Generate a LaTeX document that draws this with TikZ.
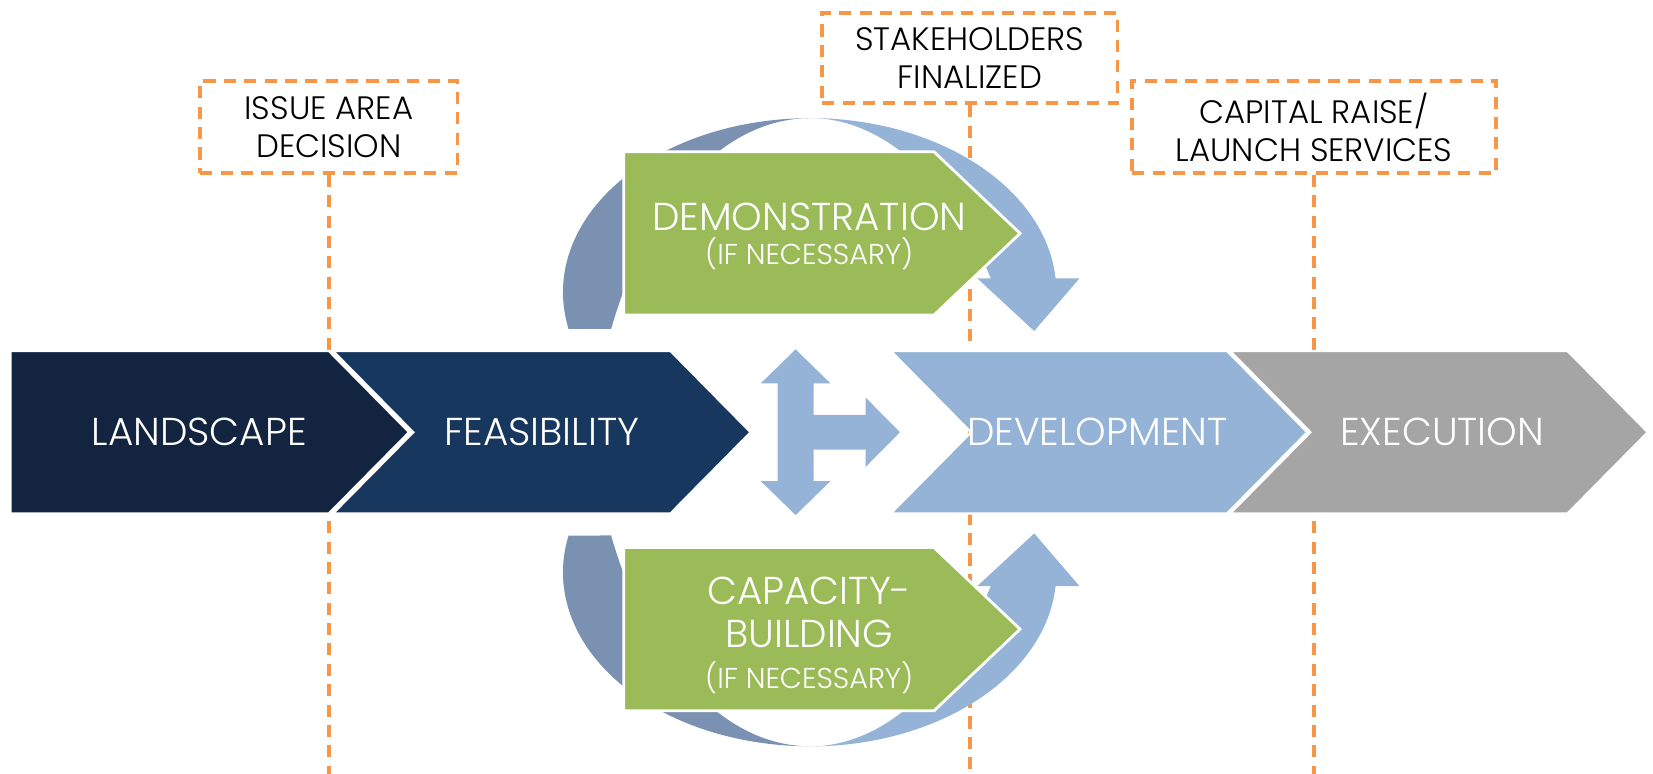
\documentclass[tikz,border=0pt]{standalone}
\usepackage{fontspec}
\IfFontExistsTF{Poppins Light}{\setmainfont{Poppins Light}}{\setmainfont{Poppins}}
\definecolor{landnavy}{HTML}{12243F}
\definecolor{feasnavy}{HTML}{18375E}
\definecolor{devblue}{HTML}{95B3D7}
\definecolor{execgray}{HTML}{A5A5A5}
\definecolor{arcslate}{HTML}{7A91B1}
\definecolor{optgreen}{HTML}{9BBB59}
\definecolor{msorange}{HTML}{F79646}
\tikzset{
    milestone/.style={draw=msorange, line width=2.1pt, dash pattern=on 6.5pt off 4.5pt,
        align=center, inner sep=0pt, font=\fontsize{17.5}{20.4}\selectfont},
    mileline/.style={draw=msorange, line width=2.1pt, dash pattern=on 6.5pt off 4.5pt},
    phase/.style={text=white, inner sep=0pt, font=\fontsize{21}{24}\selectfont},
    phasenote/.style={text=white, inner sep=0pt, font=\fontsize{15.5}{18}\selectfont},
}
\begin{document}
\begin{tikzpicture}[x=0.02cm, y=-0.02cm]
    \useasboundingbox (0,0) rectangle (1568,734);
    \def\ytop {333}
    \def\ybot {487}
    \def\ymid {410}
    \def\depth {76}
    \coordinate (floor) at (0,734);

    % milestones
    \node[milestone, minimum width=4.88cm, minimum height=1.74cm] (issue) at (312,120.5) {ISSUE AREA\\DECISION};
    \node[milestone, minimum width=5.6cm, minimum height=1.72cm] (stake) at (920,55) {STAKEHOLDERS\\FINALIZED};
    \node[milestone, minimum width=6.9cm, minimum height=1.74cm] (capital) at (1246.5,120.5) {CAPITAL RAISE/\\LAUNCH SERVICES};
    \foreach \ms in {issue, stake, capital}
        \draw[mileline] (\ms.south) -- (\ms.south |- floor);

    % loop arrows, the lower one is the upper one mirrored
    \foreach \flip/\off in {1/0, -1/820}
    {
        \begin{scope}[shift={(0,\off)}, yscale=\flip]
            \fill[arcslate] (539.3,312) arc[start angle=167.8, end angle=270, x radius=234, y radius=165]
                arc[start angle=270, end angle=205.7, x radius=209, y radius=353] -- cycle;
            \fill[devblue] (768,112) arc[start angle=270, end angle=355.5, x radius=234, y radius=165]
                -- (1024,264) -- (981,314) -- (927,264) -- (939.8,264)
                arc[start angle=325.3, end angle=270, x radius=209, y radius=353] -- cycle;
        \end{scope}
    }

    % optional steps
    \foreach \yc in {221.4, 596.8}
        \filldraw[fill=optgreen, draw=white, line width=1.5pt] (591.6,\yc-77.4) -- (886,\yc-77.4)
            -- (967.6,\yc) -- (886,\yc+77.4) -- (591.6,\yc+77.4) -- cycle;

    % phases
    \foreach \xa/\xb/\nd/\col in {10/312/0/landnavy, 316/636/76/feasnavy, 845/1164/76/devblue, 1167/1487/76/execgray}
        \filldraw[fill=\col, draw=white, line width=1.2pt] (\xa,\ytop) -- (\xb,\ytop) -- (\xb+\depth,\ymid)
            -- (\xb,\ybot) -- (\xa,\ybot) -- (\xa+\nd,\ymid) -- cycle;

    % three way arrow
    \fill[devblue] (754.7,331.4) -- (787.7,363.6) -- (771.7,363.6) -- (771.7,393.5) -- (821,393.5)
        -- (821,377) -- (853.7,410) -- (821,443) -- (821,426.5) -- (771.7,426.5) -- (771.7,456.4)
        -- (787.7,456.4) -- (754.7,488.6) -- (721.7,456.4) -- (737.7,456.4) -- (737.7,363.6)
        -- (721.7,363.6) -- cycle;

    \node[phase] (landscape) at (189,410) {LANDSCAPE};
    \node[phase] (feasibility) at (514,410) {FEASIBILITY};
    \node[phase] (development) at (1041,410) {DEVELOPMENT};
    \node[phase] (execution) at (1368,410) {EXECUTION};
    \node[phase] (demo) at (767.6,205.6) {DEMONSTRATION};
    \node[phasenote] (demonote) at (767.6,241) {(IF NECESSARY)};
    \node[phase, align=center, font=\fontsize{21}{23.3}\selectfont] (capa) at (767.6,581) {CAPACITY-\\BUILDING};
    \node[phasenote] (capanote) at (767.6,642.5) {(IF NECESSARY)};
\end{tikzpicture}
\end{document}
